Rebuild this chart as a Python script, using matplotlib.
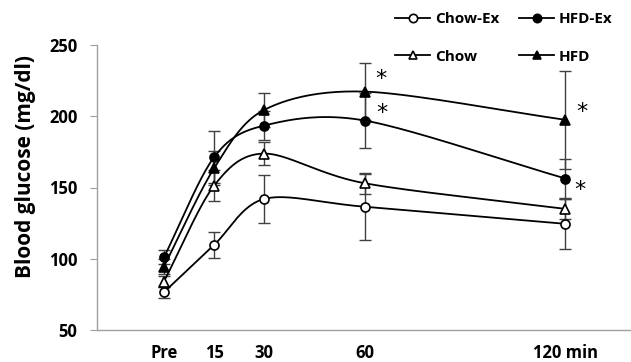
import numpy as np
import matplotlib.pyplot as plt
from matplotlib.lines import Line2D

# time points (min), "Pre" drawn at 0
minutes = [0, 15, 30, 60, 120]
tick_labels = ['Pre', '15', '30', '60', '120 min']

chow_ex = [76.5, 109.7, 142.0, 136.5, 124.5]
chow_ex_err = [4, 9, 17, 23, 17.5]
chow = [84, 151.3, 173.8, 153, 135]
chow_err = [4, 11, 8, 7.5, 7]
hfd_ex = [101, 171.3, 193.5, 197, 156.3]
hfd_ex_err = [5, 18, 10, 19, 13.5]
hfd = [94.5, 163.5, 204.5, 217.3, 197.5]
hfd_err = [5, 12, 12, 20, 34.5]

# asterisks: (minute, glucose)
stars = [(64.8, 226), (65.1, 202), (125, 203), (124.4, 148.5)]

font = 'Open Sans'


def smooth(x, y, n=40):
    # hermite curve through the points (like excel smoothed line)
    x = np.asarray(x, float)
    y = np.asarray(y, float)
    px = np.concatenate([[2 * x[0] - x[1]], x, [2 * x[-1] - x[-2]]])
    py = np.concatenate([[2 * y[0] - y[1]], y, [2 * y[-1] - y[-2]]])
    xs, ys = [], []
    t = np.linspace(0, 1, n)
    for i in range(1, len(px) - 2):
        p0, p1, p2, p3 = [np.array([px[j], py[j]]) for j in range(i - 1, i + 3)]
        m1 = (p2 - p0) / 2 * 0.9
        m2 = (p3 - p1) / 2 * 0.9
        h00 = 2 * t**3 - 3 * t**2 + 1
        h10 = t**3 - 2 * t**2 + t
        h01 = -2 * t**3 + 3 * t**2
        h11 = t**3 - t**2
        pts = (np.outer(h00, p1) + np.outer(h10, m1) + np.outer(h01, p2) + np.outer(h11, m2))
        xs.extend(pts[:, 0])
        ys.extend(pts[:, 1])
    return np.array(xs), np.array(ys)


fig = plt.figure(figsize=(6.31, 3.62), dpi=100)
ax = fig.add_axes([97 / 631, 32 / 362, 1 - 97 / 631, (330 - 45) / 362])

series = [
    ('Chow-Ex', chow_ex, chow_ex_err, 'o', 'white'),
    ('Chow', chow, chow_err, '^', 'white'),
    ('HFD-Ex', hfd_ex, hfd_ex_err, 'o', 'black'),
    ('HFD', hfd, hfd_err, '^', 'black'),
]

for name, vals, err, mk, fc in series:
    ax.errorbar(minutes, vals, yerr=err, fmt='none', ecolor='#404040',
                elinewidth=1, capsize=4, capthick=1, zorder=2)
    sx, sy = smooth(minutes, vals)
    ax.plot(sx, sy, color='black', lw=1.3, zorder=3)
    ax.plot(minutes, vals, linestyle='none', marker=mk, markersize=6.5 if mk == 'o' else 7,
            markerfacecolor=fc, markeredgecolor='black', markeredgewidth=1.2, zorder=4)

for sx_, sy_ in stars:
    ax.text(sx_, sy_, '*', fontsize=16, ha='center', va='center', family='DejaVu Sans')

ax.set_xlim(-20, 139.6)
ax.set_ylim(50, 250)
ax.set_yticks([50, 100, 150, 200, 250])
ax.set_xticks(minutes)
ax.set_xticklabels(tick_labels)
ax.tick_params(axis='x', length=0, pad=10)
ax.tick_params(axis='y', length=5, color='#a0a0a0', direction='out', pad=9)
for lab in ax.get_xticklabels() + ax.get_yticklabels():
    lab.set_fontweight('bold')
    lab.set_fontsize(12)
    lab.set_family(font)

for s in ['top', 'right']:
    ax.spines[s].set_visible(False)
for s in ['left', 'bottom']:
    ax.spines[s].set_color('#a0a0a0')
    ax.spines[s].set_linewidth(1)

ax.set_ylabel('Blood glucose (mg/dl)', fontsize=15, fontweight='bold', family=font)
ax.yaxis.set_label_coords(-0.115, 0.575)

handles = []
for name, vals, err, mk, fc in series:
    handles.append(Line2D([], [], color='black', lw=1.3, marker=mk, markersize=6,
                          markerfacecolor=fc, markeredgecolor='black', markeredgewidth=1.2,
                          label=name))
leg = fig.legend(handles=handles, ncol=2, loc='upper left', bbox_to_anchor=(395 / 631, 1 - 12 / 362),
                 frameon=False, prop={'family': font, 'weight': 'bold', 'size': 11},
                 handlelength=2.3, columnspacing=1.3, labelspacing=1.55, handletextpad=0.3,
                 borderpad=0, borderaxespad=0)

fig.savefig('out.png', dpi=100)
